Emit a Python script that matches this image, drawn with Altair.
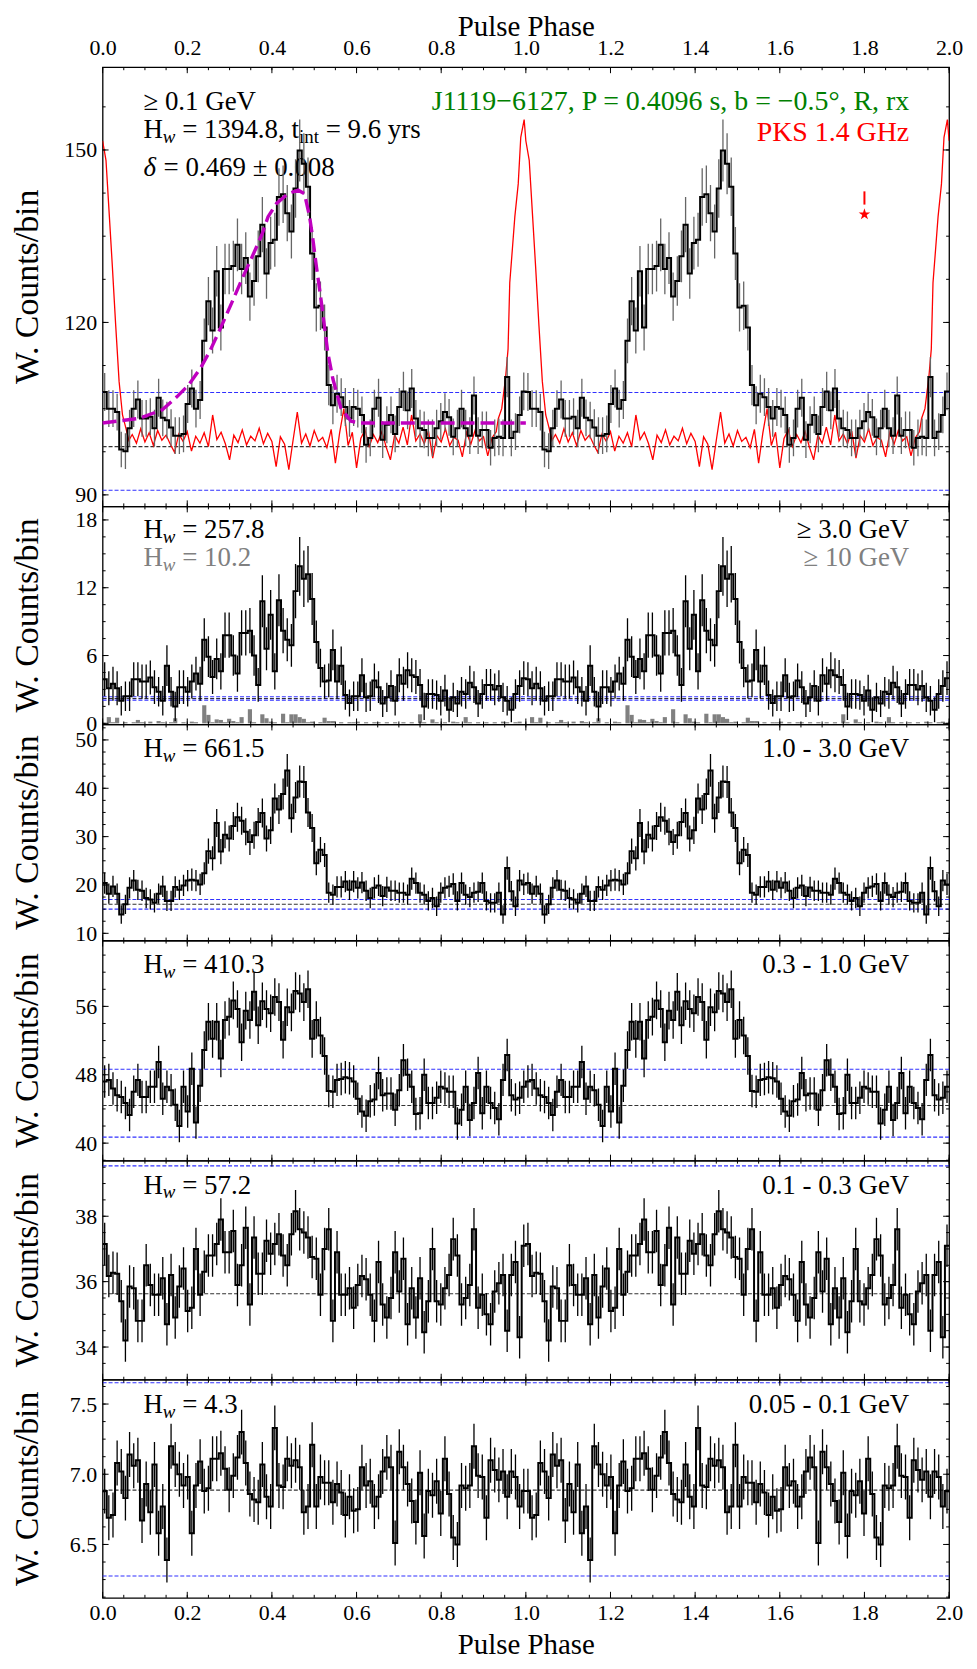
import altair as alt
import numpy as np
import pandas as pd

FONT = "Liberation Serif"
W = 850
HEIGHTS = [441, 219, 217, 221, 220, 219]
TXT = 27
SUB = 19
STAR_PATH = ("M0,-1L0.2245,-0.309L0.9511,-0.309L0.3633,0.118L0.5878,0.809L0,0.382"
             "L-0.5878,0.809L-0.3633,0.118L-0.9511,-0.309L-0.2245,-0.309Z")

# ---------------- data (one rotation; plotted twice) ----------------
PHASE_TICKS = [0.0, 0.2, 0.4, 0.6, 0.8, 1.0, 1.2, 1.4, 1.6, 1.8, 2.0]

P1_VALS = [107.9, 105.0, 105.0, 104.4, 97.9, 97.6, 101.6, 105.0, 106.6, 103.3,
           103.3, 103.6, 101.6, 106.9, 103.4, 103.0, 101.7, 100.3, 100.3, 100.6,
           105.8, 108.5, 105.0, 106.5, 116.8, 123.7, 118.6, 128.9, 119.1, 129.3,
           129.3, 129.8, 133.5, 129.3, 131.2, 124.5, 127.2, 131.5, 137.0, 128.5,
           133.8, 134.4, 141.8, 142.3, 139.0, 135.8, 143.3, 149.9, 147.6, 143.6,
           132.0, 122.6, 122.9, 119.1, 109.1, 105.6, 107.6, 107.0, 105.3, 103.3,
           105.3, 105.0, 103.9, 98.7, 99.9, 105.0, 106.9, 99.6, 102.2, 103.9,
           100.6, 105.3, 108.0, 104.7, 108.5, 103.3, 101.6, 101.3, 99.9, 99.9,
           101.6, 102.8, 104.4, 103.5, 100.1, 101.6, 105.0, 101.6, 100.3, 107.3,
           100.3, 101.3, 101.3, 98.2, 99.9, 100.1, 99.9, 110.5, 99.9, 101.0,
           103.9, 108.0]
P1_ERRS = [3.3, 3.2, 3.2, 3.2, 3.1, 3.1, 3.2, 3.2, 3.3, 3.2,
           3.2, 3.2, 3.2, 3.3, 3.2, 3.2, 3.2, 3.2, 3.2, 3.2,
           3.3, 3.3, 3.3, 3.3, 3.9, 4.2, 4.0, 4.4, 4.0, 4.4,
           4.4, 4.4, 4.6, 4.4, 4.5, 4.2, 4.3, 4.5, 4.8, 4.4,
           4.6, 4.7, 5.0, 5.0, 4.9, 4.7, 5.1, 5.4, 5.3, 5.1,
           4.6, 4.2, 4.2, 4.0, 3.5, 3.3, 3.3, 3.3, 3.3, 3.2,
           3.3, 3.3, 3.2, 3.1, 3.2, 3.3, 3.3, 3.2, 3.2, 3.2,
           3.2, 3.3, 3.4, 3.3, 3.4, 3.2, 3.2, 3.2, 3.2, 3.2,
           3.2, 3.2, 3.3, 3.2, 3.2, 3.2, 3.3, 3.2, 3.2, 3.3,
           3.2, 3.2, 3.2, 3.1, 3.2, 3.2, 3.2, 3.5, 3.2, 3.2,
           3.2, 3.3]

RADIO_PEAK_PH = [0.0, 0.008, 0.016, 0.023, 0.031, 0.039, 0.047, 0.055, 0.062]
RADIO_PEAK_V = [151.6, 148.2, 138.4, 129.8, 119.4, 109.7, 103.9, 101.6, 99.5]
RADIO_NOISE_START = 0.07
RADIO_NOISE_V = [100.5, 99.0, 101.5, 99.2, 100.8, 98.6, 101.2, 99.5, 100.4, 98.8,
                 97.4, 100.6, 99.3, 101.0, 97.6, 100.2, 99.0, 100.8, 98.4, 103.9,
                 99.6, 100.9, 98.9, 96.1, 100.4, 99.1, 101.3, 98.7, 100.2, 99.4,
                 101.6, 98.9, 100.7, 99.3, 94.9, 100.1, 98.8, 94.4, 99.5, 104.4,
                 99.0, 100.6, 98.5, 101.2, 99.3, 100.0, 98.2, 101.4, 95.5, 100.8,
                 105.0, 98.6, 100.9, 94.7, 99.8, 101.3, 98.4, 100.5, 99.1, 101.0,
                 98.3, 96.1, 100.4, 99.0, 101.8, 98.7, 103.9, 99.4, 100.6, 98.9,
                 101.1, 96.4, 100.3, 99.2, 101.5, 98.6, 100.0, 99.5, 96.6, 100.9,
                 98.8, 101.2, 99.4, 100.1, 96.8, 99.9, 101.0]
RADIO_RISE_PH = [0.935, 0.943, 0.952, 0.958, 0.962, 0.968, 0.974, 0.982, 0.988, 0.996]
RADIO_RISE_V = [103.3, 105.0, 110.3, 115.4, 126.9, 132.6, 138.4, 144.1, 152.2, 155.3]

FIT_PH = [0.0, 0.086, 0.141, 0.176, 0.203, 0.231, 0.254, 0.278, 0.305, 0.329,
          0.352, 0.376, 0.391, 0.411, 0.438, 0.462, 0.477, 0.489, 0.497, 0.505,
          0.516, 0.524, 0.532, 0.544, 0.563, 0.587, 0.610, 1.0]
FIT_V = [102.5, 103.3, 104.8, 107.1, 109.1, 112.0, 115.1, 118.9, 123.4, 127.5,
         131.2, 135.2, 138.4, 140.7, 142.4, 143.0, 142.4, 138.4, 134.4, 129.8,
         124.0, 119.4, 114.8, 110.2, 105.1, 102.8, 102.5, 102.5]

P2_VALS = [3.9, 3.1, 3.5, 3.1, 2.0, 2.4, 2.4, 3.9, 3.9, 3.7,
           3.7, 4.05, 3.2, 2.8, 2.0, 5.1, 2.8, 1.5, 3.2, 3.2,
           2.8, 3.7, 4.4, 3.5, 7.4, 5.9, 4.1, 5.7, 4.6, 7.8,
           7.8, 6.0, 4.4, 8.0, 8.0, 8.2, 6.0, 3.4, 10.8, 6.6,
           9.6, 4.6, 10.9, 8.2, 7.4, 6.9, 11.7, 13.9, 12.8, 13.2,
           11.0, 7.2, 4.9, 3.7, 3.8, 6.5, 3.7, 5.1, 2.5, 1.8,
           2.4, 2.4, 4.25, 2.3, 2.4, 3.8, 3.2, 1.75, 2.3, 3.3,
           2.0, 4.25, 3.5, 4.7, 4.25, 4.1, 3.4, 1.5, 2.6, 2.6,
           2.5, 2.0, 2.9, 1.2, 2.3, 1.75, 2.8, 2.6, 3.6, 3.2,
           1.75, 2.6, 3.4, 3.4, 3.0, 3.3, 2.3, 2.0, 1.2, 2.6,
           3.3, 4.0]
P2_ERRS = [1.5, 1.5, 1.5, 1.5, 1.3, 1.3, 1.3, 1.5, 1.5, 1.5,
           1.5, 1.5, 1.5, 1.3, 1.3, 1.8, 1.3, 1.3, 1.5, 1.5,
           1.3, 1.5, 1.5, 1.5, 1.9, 1.8, 1.5, 1.8, 1.6, 2.0,
           2.0, 1.8, 1.6, 2.0, 2.0, 2.0, 1.8, 1.5, 2.3, 1.9,
           2.2, 1.6, 2.3, 2.0, 1.9, 1.9, 2.4, 2.6, 2.5, 2.5,
           2.3, 1.9, 1.7, 1.5, 1.5, 1.8, 1.5, 1.7, 1.3, 1.2,
           1.3, 1.3, 1.5, 1.3, 1.3, 1.5, 1.4, 1.2, 1.3, 1.4,
           1.3, 1.5, 1.5, 1.6, 1.5, 1.5, 1.4, 1.2, 1.3, 1.3,
           1.3, 1.3, 1.4, 1.1, 1.3, 1.2, 1.3, 1.3, 1.5, 1.4,
           1.2, 1.3, 1.4, 1.4, 1.4, 1.4, 1.3, 1.3, 1.1, 1.3,
           1.4, 1.5]
P2_HI = [0.0, 0.55, 0.1, 0.5, 0.0, 0.1, 0.0, 0.1, 0.3, 0.1,
         0.0, 0.15, 0.0, 0.2, 0.1, 0.0, 0.1, 0.45, 0.0, 0.1,
         0.0, 0.15, 0.1, 0.0, 1.6, 0.75, 0.1, 0.35, 0.3, 0.1,
         0.4, 0.2, 0.1, 0.55, 0.0, 1.25, 0.1, 0.0, 0.8, 0.45,
         0.15, 0.1, 0.0, 0.85, 0.1, 0.8, 0.8, 0.55, 0.4, 0.1,
         0.15, 0.0, 0.1, 0.5, 0.2, 0.2, 0.0, 0.1, 0.0, 0.1,
         0.1, 0.15, 0.0, 0.1, 0.0, 0.1, 0.1, 0.0, 0.1, 0.0,
         0.1, 0.0, 0.1, 0.0, 0.1, 0.0, 0.8, 0.1, 0.0, 0.35,
         0.1, 0.0, 0.1, 0.0, 0.15, 0.1, 0.0, 0.55, 0.1, 0.0,
         0.1, 0.0, 0.1, 0.0, 0.1, 0.0, 0.15, 0.1, 0.0, 0.1,
         0.15, 0.0]

P3_VALS = [20.4, 18.2, 19.7, 18.2, 13.9, 16.0, 19.4, 20.9, 19.0, 18.8,
           17.3, 17.0, 16.3, 18.2, 19.7, 16.7, 16.7, 19.6, 19.0, 19.9,
           20.9, 21.1, 20.9, 20.1, 22.4, 27.0, 25.5, 32.8, 26.9, 30.4,
           29.6, 32.2, 34.0, 33.3, 31.0, 28.9, 30.3, 33.0, 34.9, 29.6,
           31.3, 37.9, 35.6, 38.8, 43.7, 33.8, 38.1, 41.4, 41.3, 35.0,
           31.8, 24.5, 27.3, 26.2, 18.4, 18.0, 19.6, 19.6, 20.7, 19.0,
           20.7, 19.4, 20.5, 18.8, 17.3, 19.4, 19.9, 17.7, 19.5, 18.8,
           18.8, 18.4, 18.4, 18.0, 21.3, 20.4, 18.4, 18.0, 16.7, 17.3,
           15.6, 18.4, 19.4, 19.7, 20.2, 16.7, 20.4, 18.0, 17.5, 18.4,
           18.6, 20.4, 16.7, 16.3, 16.3, 18.4, 13.9, 23.5, 18.7, 15.6,
           20.9, 20.1]
P3_ERRS = [2.2, 2.1, 2.2, 2.1, 1.9, 2.0, 2.2, 2.2, 2.1, 2.1,
           2.1, 2.1, 2.0, 2.1, 2.2, 2.1, 2.1, 2.2, 2.1, 2.2,
           2.2, 2.3, 2.2, 2.2, 2.3, 2.6, 2.5, 2.9, 2.6, 2.8,
           2.7, 2.9, 3.0, 2.9, 2.8, 2.7, 2.8, 2.9, 3.0, 2.7,
           2.8, 3.1, 3.0, 3.2, 3.4, 3.0, 3.2, 3.3, 3.3, 3.0,
           2.9, 2.5, 2.6, 2.5, 2.1, 2.1, 2.2, 2.2, 2.2, 2.1,
           2.2, 2.2, 2.2, 2.1, 2.1, 2.2, 2.2, 2.1, 2.2, 2.1,
           2.1, 2.1, 2.1, 2.1, 2.3, 2.2, 2.1, 2.1, 2.0, 2.1,
           2.0, 2.1, 2.2, 2.2, 2.2, 2.0, 2.2, 2.1, 2.1, 2.1,
           2.1, 2.2, 2.0, 2.0, 2.0, 2.1, 1.9, 2.4, 2.1, 2.0,
           2.2, 2.2]

P4_VALS = [47.2, 47.4, 46.4, 45.6, 45.4, 44.7, 43.3, 46.0, 47.4, 45.4,
           45.4, 46.6, 46.6, 49.5, 45.2, 46.6, 46.2, 44.5, 42.0, 46.6,
           43.7, 48.7, 42.4, 46.7, 50.9, 54.2, 52.2, 54.2, 49.9, 54.4,
           54.8, 56.7, 55.7, 51.8, 55.5, 54.4, 57.7, 53.8, 56.6, 55.7,
           55.2, 57.1, 56.5, 52.1, 55.9, 55.3, 57.8, 57.5, 56.5, 58.0,
           52.2, 54.4, 52.6, 50.2, 46.1, 46.0, 47.4, 47.5, 47.7, 47.6,
           47.2, 45.2, 43.7, 43.2, 44.9, 45.1, 48.2, 45.6, 45.8, 45.8,
           43.9, 46.2, 49.7, 48.0, 46.6, 43.4, 43.5, 48.0, 44.7, 44.7,
           45.3, 46.6, 46.4, 46.0, 46.0, 42.3, 43.9, 46.6, 42.7, 44.7,
           48.2, 43.5, 46.6, 44.7, 44.1, 42.8, 47.4, 50.3, 45.6, 45.1,
           45.3, 46.6]
P4_ERR_OFF = 1.9
P4_ERR_ON = 2.2
P4_ON = (24, 54)

P5_VALS = [37.15, 36.17, 36.27, 36.24, 35.4, 34.2, 35.85, 35.8, 34.8, 34.8,
           36.5, 35.9, 35.6, 35.6, 36.1, 34.7, 36.2, 34.9, 35.85, 36.4,
           35.1, 35.2, 37.0, 35.6, 36.3, 36.8, 36.8, 37.15, 37.9, 36.9,
           36.9, 37.55, 35.9, 36.5, 37.65, 35.3, 37.35, 36.24, 36.24, 37.25,
           36.85, 37.15, 37.45, 36.8, 36.5, 37.45, 38.15, 37.6, 37.5, 37.35,
           36.75, 36.7, 35.6, 37.0, 37.6, 34.8, 36.9, 35.6, 35.6, 35.8,
           35.2, 35.9, 36.17, 36.07, 35.6, 34.8, 36.6, 35.3, 34.9, 35.5,
           36.9, 35.7, 36.7, 34.7, 35.8, 34.9, 36.1, 34.45, 35.4, 37.0,
           35.4, 35.3, 35.8, 36.2, 37.3, 36.8, 35.3, 35.5, 35.9, 37.6,
           35.2, 35.6, 35.0, 34.7, 35.7, 35.95, 36.2, 34.5, 36.2, 36.6,
           34.3, 37.1]
P5_ERR = 0.65

P6_VALS = [6.88, 6.69, 6.71, 7.08, 7.02, 6.83, 7.14, 7.06, 7.10, 6.67,
           6.93, 6.73, 7.07, 6.58, 6.77, 6.39, 7.20, 7.07, 7.00, 6.92,
           6.98, 6.58, 6.92, 7.09, 6.88, 6.90, 7.11, 7.11, 7.15, 7.04,
           6.89, 6.99, 7.12, 7.30, 7.08, 6.86, 6.82, 6.80, 7.07, 6.84,
           6.77, 7.33, 6.92, 6.91, 7.11, 7.06, 7.10, 7.05, 6.73, 6.77,
           7.21, 6.77, 6.98, 6.94, 6.94, 6.80, 6.93, 6.87, 6.71, 6.84,
           6.74, 6.75, 7.05, 6.92, 6.95, 6.77, 6.84, 7.02, 7.12, 7.05,
           6.51, 7.16, 7.05, 6.93, 6.81, 6.66, 7.01, 6.56, 6.88, 6.85,
           6.95, 6.72, 7.11, 6.86, 6.55, 6.50, 6.92, 6.90, 6.92, 7.20,
           6.99, 6.98, 6.69, 7.10, 7.03, 6.96, 7.02, 6.84, 7.02, 6.98,
           6.77, 6.88]
P6_ERR = 0.16

Y_DOMAINS = [[88.0, 164.4], [-0.1, 19.2], [8.5, 53.2], [37.95, 63.7], [33.0, 39.7], [6.12, 7.673]]
Y_LABELS = [[90, 120, 150], [0, 6, 12, 18], [10, 20, 30, 40, 50], [40, 48, 56], [34, 36, 38], [6.5, 7.0, 7.5]]
Y_FMT = ["d", "d", "d", "d", "d", ".1f"]
Y_MINOR = [7.5, 1.5, 2.5, 2.0, 0.5, 0.125]
BLUE_LEVELS = [[107.8, 90.8], [2.05, 2.35], [17.0, 15.0], [48.65, 40.7], [39.54], [7.652, 6.275]]
BLACK_LEVELS = [[98.4], [2.2], [16.0], [44.4], [35.63], [6.887]]

STAR_PH, STAR_V = 1.8, 138.8
DASH_LO, DASH_HI = 140.5, 142.8

# ---------------- helpers ----------------
TW = {' ': 250, '.': 250, ',': 250, '=': 564, '±': 564, '≥': 549, 'H': 722, 'G': 722,
      'V': 722, 'e': 444, 't': 278, 'i': 278, 'n': 500, 'y': 500, 'r': 333, 's': 389,
      'δ': 500, 'w': 667, '-': 333}


def tw(s, size):
    return float(sum(TW.get(ch, 500) for ch in s)) / 1000.0 * size


def T(s, x, y, size=TXT, color="black", align="left", style="normal", angle=0):
    return {"s": s, "px": float(x), "py": float(y), "size": size, "color": color,
            "align": align, "style": style, "angle": angle}


def hw_items(x0, y0, rest, color="black"):
    out = [T("H", x0, y0, color=color)]
    x = x0 + tw("H", TXT)
    out.append(T("w", x, y0 + 5, size=SUB, color=color, style="italic"))
    x += tw("w", SUB) + tw(" ", TXT)
    out.append(T("= " + rest, x, y0, color=color))
    return out, x + tw("= " + rest, TXT)


def bins_df(vals, errs):
    n = len(vals)
    rows = []
    for rot in (0, 1):
        for i in range(n):
            lo = rot + i / n
            rows.append({"lo": lo, "hi": lo + 1.0 / n, "c": lo + 0.5 / n, "v": vals[i],
                         "e0": vals[i] - errs[i], "e1": vals[i] + errs[i]})
    return pd.DataFrame(rows)


XMAJ = PHASE_TICKS
XMIN = [round(0.05 * k, 2) for k in range(41)]


def make_panel(k, vals, errs, xkind, err_color, items, extra=None, grey=None):
    h = HEIGHTS[k]
    d0, d1 = Y_DOMAINS[k]
    xs = alt.Scale(domain=[0, 2], nice=False, zero=False)
    ys = alt.Scale(domain=[d0, d1], nice=False, zero=False)
    if xkind == "top":
        xax = alt.Axis(orient="top", values=XMAJ, format=".1f", title="Pulse Phase",
                       ticks=False, domain=False, grid=False, labelFont=FONT,
                       labelFontSize=22, labelPadding=8, titleFont=FONT, titleFontSize=29,
                       titleFontWeight="normal", titlePadding=-5, labelColor="black",
                       titleColor="black", labelFlush=False)
    elif xkind == "bottom":
        xax = alt.Axis(orient="bottom", values=XMAJ, format=".1f", title="Pulse Phase",
                       ticks=False, domain=False, grid=False, labelFont=FONT,
                       labelFontSize=22, labelPadding=5, titleFont=FONT, titleFontSize=29,
                       titleFontWeight="normal", titlePadding=7, labelColor="black",
                       titleColor="black", labelFlush=False)
    else:
        xax = None
    yax = alt.Axis(values=Y_LABELS[k], format=Y_FMT[k], title=None,
                   ticks=False, domain=False, grid=False,
                   labelFont=FONT, labelFontSize=22, labelPadding=6,
                   labelColor="black")

    def X(f):
        return alt.X(f, type="quantitative", scale=xs, axis=xax)

    def Y(f):
        return alt.Y(f, type="quantitative", scale=ys, axis=yax)

    def px2x(p):
        return p / W * 2.0

    def py2y(p):
        return d1 - p / h * (d1 - d0)

    df = bins_df(vals, errs)
    step = pd.concat([df[["lo", "v"]], pd.DataFrame({"lo": [2.0], "v": [vals[-1]]})],
                     ignore_index=True)

    layers = []
    layers.append(alt.Chart(pd.DataFrame({"r": BLUE_LEVELS[k]})).mark_rule(
        color="#3030ff", strokeWidth=1.1, strokeDash=[4, 2]).encode(y=Y("r")))
    layers.append(alt.Chart(pd.DataFrame({"r": BLACK_LEVELS[k]})).mark_rule(
        color="#333333", strokeWidth=1.1, strokeDash=[4, 2]).encode(y=Y("r")))
    if grey is not None:
        n = len(grey)
        gd = pd.DataFrame({"lo": [r + i / n for r in (0, 1) for i in range(n)],
                           "hi": [r + (i + 1) / n for r in (0, 1) for i in range(n)],
                           "z": [0.0] * (2 * n), "g": list(grey) + list(grey)})
        layers.append(alt.Chart(gd).mark_rect(color="#808080").encode(
            x=X("lo"), x2=alt.X2("hi"), y=Y("z"), y2=alt.Y2("g")))

    all_items = [T("W. Counts/bin", -75, h / 2.0, size=34, align="center", angle=270)] + items
    groups = {}
    for it in all_items:
        key = (it["size"], it["color"], it["align"], it["style"], it["angle"])
        groups.setdefault(key, []).append(it)
    for (size, color, align, style, angle), its in groups.items():
        tdf = pd.DataFrame({"s": [i["s"] for i in its],
                            "tx": [px2x(i["px"]) for i in its],
                            "ty": [py2y(i["py"]) for i in its]})
        mk = dict(font=FONT, fontSize=size, color=color, align=align, fontStyle=style,
                  baseline="alphabetic")
        if angle:
            mk["angle"] = angle
            mk["baseline"] = "middle"
        layers.append(alt.Chart(tdf).mark_text(**mk).encode(
            x=X("tx"), y=Y("ty"), text=alt.Text("s:N")))

    if extra is not None:
        layers += extra(X, Y)
    layers.append(alt.Chart(df).mark_rule(color=err_color, strokeWidth=1.3, clip=True).encode(
        x=X("c"), y=Y("e0"), y2=alt.Y2("e1")))
    layers.append(alt.Chart(step).mark_line(interpolate="step-after", color="black",
                                            strokeWidth=2.0, clip=True).encode(
        x=X("lo"), y=Y("v")))
    if k == 0:
        fd = pd.DataFrame({"p": FIT_PH, "f": FIT_V})
        layers.append(alt.Chart(fd).mark_line(color="#bf00bf", strokeWidth=3.4,
                                              strokeDash=[14, 6]).encode(x=X("p"), y=Y("f")))
        sd = pd.DataFrame({"p": [STAR_PH], "s": [STAR_V], "a": [DASH_LO], "b": [DASH_HI]})
        layers.append(alt.Chart(sd).mark_rule(color="red", strokeWidth=2).encode(
            x=X("p"), y=Y("a"), y2=alt.Y2("b")))
        layers.append(alt.Chart(sd).mark_point(shape=STAR_PATH, filled=True, color="red",
                                               size=150, opacity=1).encode(x=X("p"), y=Y("s")))

    stp = Y_MINOR[k]
    ymin = []
    v = float(np.ceil(d0 / stp) * stp)
    while v <= d1:
        ymin.append(round(v, 4))
        v += stp
    rows_v, rows_h = [], []
    for vals_t, L in ((XMIN, 3.0), (XMAJ, 6.0)):
        for t in vals_t:
            rows_v.append({"t": t, "a": d1, "b": py2y(L)})
            rows_v.append({"t": t, "a": d0, "b": py2y(h - L)})
    for vals_t, L in ((ymin, 3.0), (Y_LABELS[k], 6.0)):
        for t in vals_t:
            rows_h.append({"t": t, "a": 0.0, "b": px2x(L)})
            rows_h.append({"t": t, "a": 2.0, "b": px2x(W - L)})
    layers.append(alt.Chart(pd.DataFrame(rows_v)).mark_rule(color="black", strokeWidth=1).encode(
        x=X("t"), y=Y("a"), y2=alt.Y2("b")))
    layers.append(alt.Chart(pd.DataFrame(rows_h)).mark_rule(color="black", strokeWidth=1).encode(
        y=Y("t"), x=X("a"), x2=alt.X2("b")))
    return alt.layer(*layers).properties(width=W, height=h)


def radio_layers(X, Y):
    ph1 = RADIO_PEAK_PH + [round(RADIO_NOISE_START + 0.01 * i, 3) for i in range(len(RADIO_NOISE_V))] + RADIO_RISE_PH
    v1 = RADIO_PEAK_V + RADIO_NOISE_V + RADIO_RISE_V
    ph = ph1 + [p + 1 for p in ph1] + [2.0]
    v = v1 + v1 + [RADIO_PEAK_V[0]]
    rd = pd.DataFrame({"p": ph, "r": v})
    return [alt.Chart(rd).mark_line(color="red", strokeWidth=1.3, clip=True).encode(
        x=X("p"), y=Y("r"))]


LX = 41
RX = 810

t1 = [T("≥ 0.1 GeV", LX, 43)]
hw, xe = hw_items(LX, 71, "1394.8, t")
t1 += hw
t1.append(T("int", xe, 76, size=SUB))
t1.append(T("= 9.6 yrs", xe + tw("int", SUB) + tw(" ", TXT), 71))
t1.append(T("δ", LX, 109, style="italic"))
t1.append(T("= 0.469 ± 0.008", LX + tw("δ", TXT) + tw(" ", TXT), 109))
t1.append(T("J1119−6127, P = 0.4096 s, b = −0.5°, R, rx", RX, 43, size=28, color="#008000", align="right"))
t1.append(T("PKS 1.4 GHz", RX, 74, size=28, color="red", align="right"))

t2 = hw_items(LX, 32, "257.8")[0] + hw_items(LX, 60, "10.2", color="#808080")[0]
t2 += [T("≥ 3.0 GeV", RX, 32, align="right"), T("≥ 10 GeV", RX, 60, color="#808080", align="right")]
t3 = hw_items(LX, 33, "661.5")[0] + [T("1.0 - 3.0 GeV", RX, 33, align="right")]
t4 = hw_items(LX, 33, "410.3")[0] + [T("0.3 - 1.0 GeV", RX, 33, align="right")]
t5 = hw_items(LX, 33, "57.2")[0] + [T("0.1 - 0.3 GeV", RX, 33, align="right")]
t6 = hw_items(LX, 33, "4.3")[0] + [T("0.05 - 0.1 GeV", RX, 33, align="right")]

P4_ERRS = [P4_ERR_ON if P4_ON[0] <= i < P4_ON[1] else P4_ERR_OFF for i in range(len(P4_VALS))]
P5_ERRS = [P5_ERR] * len(P5_VALS)
P6_ERRS = [P6_ERR] * len(P6_VALS)

panels = [
    make_panel(0, P1_VALS, P1_ERRS, "top", "#666666", t1, extra=radio_layers),
    make_panel(1, P2_VALS, P2_ERRS, None, "black", t2, grey=P2_HI),
    make_panel(2, P3_VALS, P3_ERRS, None, "black", t3),
    make_panel(3, P4_VALS, P4_ERRS, None, "black", t4),
    make_panel(4, P5_VALS, P5_ERRS, None, "black", t5),
    make_panel(5, P6_VALS, P6_ERRS, "bottom", "black", t6),
]

chart = alt.vconcat(*panels, spacing=0, bounds="flush").resolve_scale(
    x="independent", y="independent"
).properties(
    padding={"left": 2, "top": 0, "right": 5, "bottom": 0}
).configure_view(stroke="black", strokeWidth=1.3)

chart.save("out.html", embed_options={"renderer": "svg", "actions": False})
